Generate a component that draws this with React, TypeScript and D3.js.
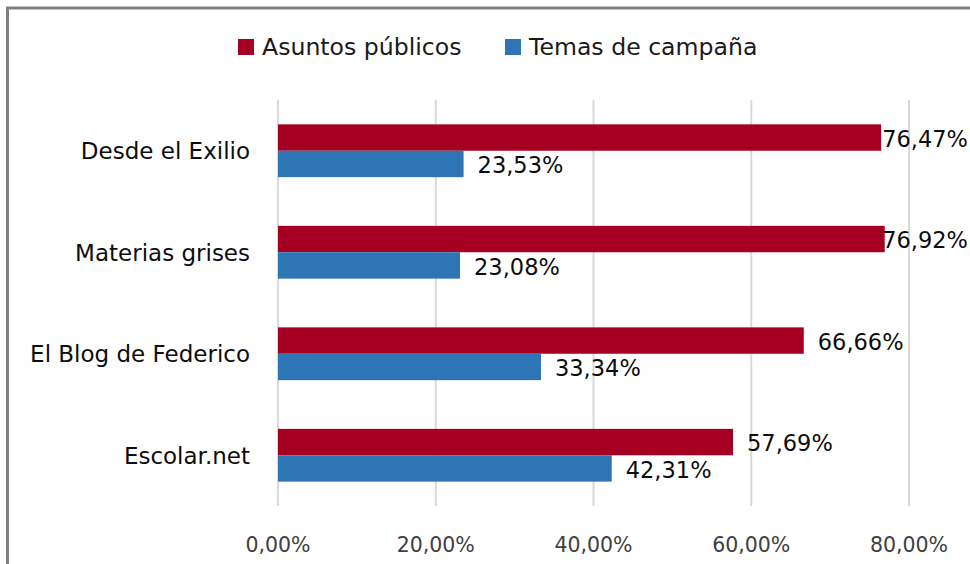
import React from "react"
import * as d3 from "d3"

const width = 970
const height = 564

const categories = ["Desde el Exilio", "Materias grises", "El Blog de Federico", "Escolar.net"]
const asuntos = [76.47, 76.92, 66.66, 57.69]
const temas = [23.53, 23.08, 33.34, 42.31]
const ticks = [0, 20, 40, 60, 80]
const seriesNames = ["Asuntos públicos", "Temas de campaña"]
const colors = ["#A50021", "#2E75B6"]

const font = "'DejaVu Sans', Verdana, sans-serif"
const fmt = (v: number) => v.toFixed(2).replace(".", ",") + "%"

export default function App() {
  const margin = { top: 100, right: 61, bottom: 58, left: 278 }
  const x = d3.scaleLinear().domain([0, 80]).range([margin.left, width - margin.right])
  const y = d3
    .scaleBand()
    .domain(categories)
    .range([margin.top, height - margin.bottom])
    .paddingInner(0.48)
    .paddingOuter(0.24)
  const bh = y.bandwidth() / 2
  const series = [asuntos, temas]
  const labelW = 86

  // excel pushes the label back against the bar when it would run off the edge
  const label = (v: number) => {
    const end = x(v)
    if (end + 14 + labelW <= width - 2) return { x: end + 14, anchor: "start" }
    return { x: Math.min(end + 1 + labelW, width - 2), anchor: "end" }
  }

  return (
    <svg
      width={width}
      height={height}
      style={{ position: "absolute", left: 0, top: 0, fontFamily: font }}
    >
      <rect x={0} y={0} width={width} height={height} fill="#fff" />
      <rect x={7.5} y={8} width={width + 10} height={height + 10} fill="none" stroke="#808080" strokeWidth={3} />

      {/* legend */}
      <g>
        <rect x={238} y={39} width={16} height={16} fill={colors[0]} />
        <text x={262} y={47} dy="0.36em" fontSize={23.6} fill="#1a1a1a">{seriesNames[0]}</text>
        <rect x={505} y={39} width={16} height={16} fill={colors[1]} />
        <text x={529} y={47} dy="0.36em" fontSize={23.6} fill="#1a1a1a">{seriesNames[1]}</text>
      </g>

      {/* grid */}
      {ticks.map(t => (
        <line key={t} x1={x(t)} x2={x(t)} y1={margin.top} y2={height - margin.bottom} stroke="#d9d9d9" strokeWidth={2} />
      ))}
      {ticks.map(t => (
        <text key={"t" + t} x={x(t)} y={545} dy="0.36em" textAnchor="middle" fontSize={20.5} fill="#404040">
          {fmt(t)}
        </text>
      ))}

      {categories.map((c, i) => {
        const y0 = y(c) as number
        return (
          <g key={c}>
            <text x={250} y={y0 + bh} dy="0.36em" textAnchor="end" fontSize={23} fill="#0d0d0d">{c}</text>
            {series.map((s, k) => {
              const l = label(s[i])
              return (
                <g key={k}>
                  <rect x={x(0)} y={y0 + k * bh} width={x(s[i]) - x(0)} height={bh} fill={colors[k]} />
                  <text x={l.x} y={y0 + k * bh + bh / 2 + 1} dy="0.36em" textAnchor={l.anchor} fontSize={22.5} fill="#0d0d0d">
                    {fmt(s[i])}
                  </text>
                </g>
              )
            })}
          </g>
        )
      })}
    </svg>
  )
}
